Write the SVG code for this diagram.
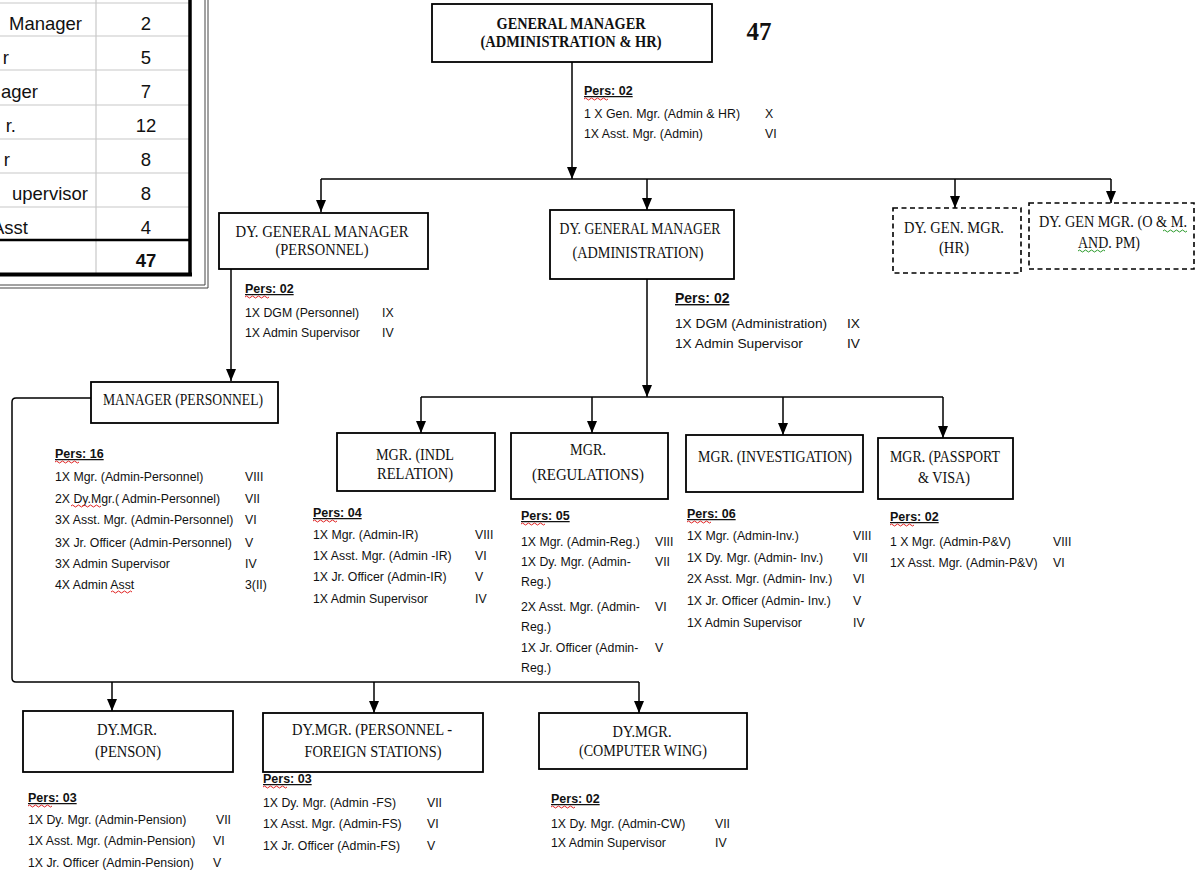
<svg xmlns="http://www.w3.org/2000/svg" xmlns:xlink="http://www.w3.org/1999/xlink" width="1198" height="872" viewBox="0 0 1198 872">
<style>
.box{fill:#fff;stroke:#000;stroke-width:1.8}
.dash{fill:#fff;stroke:#000;stroke-width:1.6;stroke-dasharray:5 3.5}
.t{font-family:"Liberation Serif","Times New Roman",serif;font-size:16.5px;text-anchor:middle;fill:#111}
.tb{font-weight:bold;font-size:16.5px}
.l{font-family:"Liberation Sans",Arial,sans-serif;font-size:12.3px;fill:#111}
.lg{font-size:13.7px}
.p{font-family:"Liberation Sans",Arial,sans-serif;font-size:12.5px;font-weight:bold;fill:#111;text-decoration:underline}
.pg{font-size:14px}
.conn{stroke:#000;stroke-width:1.5;fill:none}
.arr{marker-end:url(#ah)}
.sq{fill:none;stroke:#e02020;stroke-width:1}
.sqg{fill:none;stroke:#2a9a2a;stroke-width:1}
.tbl{font-family:"Liberation Sans",Arial,sans-serif;font-size:18.5px;fill:#111}
.gl{stroke:#c8c8c8;stroke-width:1.2}
</style>
<defs>
<marker id="ah" markerUnits="userSpaceOnUse" markerWidth="12" markerHeight="10" viewBox="0 0 12 10" refX="12" refY="5" orient="auto">
<path d="M0,0 L12,5 L0,10 Z" fill="#000"/>
</marker>
<path id="squig" d="M0,0 q1.5,-2 3,0 t3,0 t3,0 t3,0 t3,0 t3,0 t3,0 t3,0"/>
</defs>
<rect width="1198" height="872" fill="#fff"/>

<!-- staffing table (cropped at left/top) -->
<g id="table">
<line class="gl" x1="0" y1="3" x2="190" y2="3"/>
<line class="gl" x1="0" y1="36" x2="190" y2="36"/>
<line class="gl" x1="0" y1="70" x2="190" y2="70"/>
<line class="gl" x1="0" y1="105" x2="190" y2="105"/>
<line class="gl" x1="0" y1="139" x2="190" y2="139"/>
<line class="gl" x1="0" y1="173" x2="190" y2="173"/>
<line class="gl" x1="0" y1="207" x2="190" y2="207"/>
<line class="gl" x1="96" y1="0" x2="96" y2="274"/>
<line x1="0" y1="240" x2="190" y2="240" stroke="#000" stroke-width="2.5"/>
<line x1="0" y1="274.5" x2="192" y2="274.5" stroke="#000" stroke-width="4"/>
<line x1="190" y1="0" x2="190" y2="276" stroke="#000" stroke-width="3.5"/>
<line x1="205" y1="0" x2="205" y2="285" stroke="#444" stroke-width="1"/>
<line x1="208" y1="0" x2="208" y2="288" stroke="#444" stroke-width="1"/>
<line x1="0" y1="285" x2="205" y2="285" stroke="#444" stroke-width="1"/>
<line x1="0" y1="288" x2="208" y2="288" stroke="#444" stroke-width="1"/>
<text class="tbl" x="82" y="30" text-anchor="end">Manager</text>
<text class="tbl" x="9" y="64" text-anchor="end">r</text>
<text class="tbl" x="38" y="98" text-anchor="end">ager</text>
<text class="tbl" x="16" y="132" text-anchor="end">r.</text>
<text class="tbl" x="10" y="166" text-anchor="end">r</text>
<text class="tbl" x="88" y="200" text-anchor="end">upervisor</text>
<text class="tbl" x="28" y="234" text-anchor="end">Asst</text>
<text class="tbl" x="146" y="30" text-anchor="middle">2</text>
<text class="tbl" x="146" y="64" text-anchor="middle">5</text>
<text class="tbl" x="146" y="98" text-anchor="middle">7</text>
<text class="tbl" x="146" y="132" text-anchor="middle">12</text>
<text class="tbl" x="146" y="166" text-anchor="middle">8</text>
<text class="tbl" x="146" y="200" text-anchor="middle">8</text>
<text class="tbl" x="146" y="234" text-anchor="middle">4</text>
<text class="tbl" x="146" y="267" text-anchor="middle" font-weight="bold">47</text>
</g>

<g id="connectors">
<path class="conn arr" d="M572,62 V179"/>
<path class="conn" d="M321,179 H1111"/>
<path class="conn arr" d="M321,179 V212"/>
<path class="conn arr" d="M647,179 V210"/>
<path class="conn arr" d="M955,179 V208"/>
<path class="conn arr" d="M1111,179 V203"/>
<path class="conn arr" d="M231,269 V381"/>
<path class="conn arr" d="M647,279 V397"/>
<path class="conn" d="M421,397 H943"/>
<path class="conn arr" d="M421,397 V433"/>
<path class="conn arr" d="M592,397 V433"/>
<path class="conn arr" d="M783,397 V435"/>
<path class="conn arr" d="M943,397 V438"/>
<path class="conn" d="M91,398 H16 Q12,398 12,402 V678 Q12,682 16,682 H639"/>
<path class="conn arr" d="M112,682 V711"/>
<path class="conn arr" d="M374,682 V713"/>
<path class="conn arr" d="M639,682 V713"/>
</g>

<g id="gm">
<rect class="box" x="432" y="4" width="280" height="58" stroke-width="2"/>
<text class="t tb" x="571" y="29" textLength="149" lengthAdjust="spacingAndGlyphs">GENERAL MANAGER</text>
<text class="t tb" x="571" y="46.5" textLength="181" lengthAdjust="spacingAndGlyphs">(ADMINISTRATION &amp; HR)</text>
</g>
<text id="total" x="759" y="40" font-family="Liberation Serif, serif" font-weight="bold" font-size="25" text-anchor="middle" fill="#111">47</text>

<g id="gm-pers">
<text class="p" x="584" y="95">Pers: 02</text>
<use href="#squig" class="sq" x="584" y="99"/>
<text class="l" x="584" y="118" textLength="156" lengthAdjust="spacingAndGlyphs">1 X  Gen. Mgr. (Admin &amp; HR)</text>
<text class="l" x="765" y="118">X</text>
<text class="l" x="584" y="138">1X Asst. Mgr. (Admin)</text>
<text class="l" x="765" y="138">VI</text>
</g>

<g id="dgm-personnel">
<rect class="box" x="219" y="213" width="209" height="56"/>
<text class="t" x="322" y="237" textLength="173" lengthAdjust="spacingAndGlyphs">DY. GENERAL MANAGER</text>
<text class="t" x="322" y="255" textLength="93" lengthAdjust="spacingAndGlyphs">(PERSONNEL)</text>
</g>
<g id="dgm-personnel-pers">
<text class="p" x="245" y="293">Pers: 02</text>
<use href="#squig" class="sq" x="245" y="297"/>
<text class="l" x="245" y="317">1X DGM (Personnel)</text>
<text class="l" x="382" y="317">IX</text>
<text class="l" x="245" y="337">1X Admin Supervisor</text>
<text class="l" x="382" y="337">IV</text>
</g>

<g id="dgm-admin">
<rect class="box" x="550" y="210" width="184" height="69"/>
<text class="t" x="640" y="234" textLength="161" lengthAdjust="spacingAndGlyphs">DY. GENERAL MANAGER</text>
<text class="t" x="638" y="258" textLength="131" lengthAdjust="spacingAndGlyphs">(ADMINISTRATION)</text>
</g>
<g id="dgm-admin-pers">
<text class="p pg" x="675" y="303">Pers: 02</text>
<text class="l lg" x="675" y="328">1X DGM (Administration)</text>
<text class="l lg" x="847" y="328">IX</text>
<text class="l lg" x="675" y="348">1X Admin Supervisor</text>
<text class="l lg" x="847" y="348">IV</text>
</g>

<g id="dgm-hr">
<rect class="dash" x="893" y="208" width="128" height="65"/>
<text class="t" x="954" y="233" textLength="100" lengthAdjust="spacingAndGlyphs">DY. GEN. MGR.</text>
<text class="t" x="954" y="253" textLength="30" lengthAdjust="spacingAndGlyphs">(HR)</text>
</g>
<g id="dgm-om">
<rect class="dash" x="1029" y="203" width="165" height="66"/>
<text class="t" x="1113" y="227" textLength="148" lengthAdjust="spacingAndGlyphs">DY. GEN MGR. (O &amp; M.</text>
<text class="t" x="1109" y="248" textLength="62" lengthAdjust="spacingAndGlyphs">AND. PM)</text>
<use href="#squig" class="sqg" x="1163" y="231"/>
<path class="sqg" d="M1078,251 q1.5,-2 3,0 t3,0 t3,0 t3,0 t3,0 t3,0 t3,0 t3,0 t3,0"/>
</g>

<g id="mgr-personnel">
<rect class="box" x="91" y="382" width="187" height="41"/>
<text class="t" x="183" y="405" textLength="160" lengthAdjust="spacingAndGlyphs">MANAGER (PERSONNEL)</text>
</g>
<g id="mgr-personnel-pers">
<text class="p" x="55" y="458">Pers: 16</text>
<use href="#squig" class="sq" x="55" y="462"/>
<text class="l" x="55" y="481">1X Mgr. (Admin-Personnel)</text>
<text class="l" x="245" y="481">VIII</text>
<text class="l" x="55" y="503">2X Dy.Mgr.( Admin-Personnel)</text>
<path class="sq" d="M71,506 q1.5,-2 3,0 t3,0 t3,0 t3,0 t3,0 t3,0 t3,0 t3,0 t3,0 t3,0"/>
<text class="l" x="245" y="503">VII</text>
<text class="l" x="55" y="524">3X Asst. Mgr. (Admin-Personnel)</text>
<text class="l" x="245" y="524">VI</text>
<text class="l" x="55" y="547">3X Jr. Officer (Admin-Personnel)</text>
<text class="l" x="245" y="547">V</text>
<text class="l" x="55" y="568">3X Admin Supervisor</text>
<text class="l" x="245" y="568">IV</text>
<text class="l" x="55" y="589">4X Admin Asst</text>
<path class="sq" d="M111,592 q1.5,-2 3,0 t3,0 t3,0 t3,0 t3,0 t3,0 t3,0"/>
<text class="l" x="245" y="589">3(II)</text>
</g>

<g id="mgr-ir">
<rect class="box" x="337" y="433" width="158" height="58"/>
<text class="t" x="415" y="460" textLength="78" lengthAdjust="spacingAndGlyphs">MGR. (INDL</text>
<text class="t" x="415" y="479" textLength="76" lengthAdjust="spacingAndGlyphs">RELATION)</text>
</g>
<g id="mgr-ir-pers">
<text class="p" x="313" y="517">Pers: 04</text>
<use href="#squig" class="sq" x="313" y="521"/>
<text class="l" x="313" y="539">1X Mgr. (Admin-IR)</text>
<text class="l" x="475" y="539">VIII</text>
<text class="l" x="313" y="560">1X Asst. Mgr. (Admin -IR)</text>
<text class="l" x="475" y="560">VI</text>
<text class="l" x="313" y="581">1X Jr. Officer (Admin-IR)</text>
<text class="l" x="475" y="581">V</text>
<text class="l" x="313" y="603">1X Admin Supervisor</text>
<text class="l" x="475" y="603">IV</text>
</g>

<g id="mgr-reg">
<rect class="box" x="511" y="433" width="157" height="66"/>
<text class="t" x="588" y="455" textLength="36" lengthAdjust="spacingAndGlyphs">MGR.</text>
<text class="t" x="588" y="480" textLength="112" lengthAdjust="spacingAndGlyphs">(REGULATIONS)</text>
</g>
<g id="mgr-reg-pers">
<text class="p" x="521" y="520">Pers: 05</text>
<use href="#squig" class="sq" x="521" y="524"/>
<text class="l" x="521" y="546">1X Mgr. (Admin-Reg.)</text>
<text class="l" x="655" y="546">VIII</text>
<text class="l" x="521" y="566">1X Dy. Mgr. (Admin-</text>
<text class="l" x="655" y="566">VII</text>
<text class="l" x="521" y="586">Reg.)</text>
<text class="l" x="521" y="611">2X Asst. Mgr. (Admin-</text>
<text class="l" x="655" y="611">VI</text>
<text class="l" x="521" y="631">Reg.)</text>
<text class="l" x="521" y="652">1X Jr. Officer (Admin-</text>
<text class="l" x="655" y="652">V</text>
<text class="l" x="521" y="672">Reg.)</text>
</g>

<g id="mgr-inv">
<rect class="box" x="686" y="435" width="177" height="57"/>
<text class="t" x="775" y="462" textLength="154" lengthAdjust="spacingAndGlyphs">MGR. (INVESTIGATION)</text>
</g>
<g id="mgr-inv-pers">
<text class="p" x="687" y="518">Pers: 06</text>
<use href="#squig" class="sq" x="687" y="522"/>
<text class="l" x="687" y="540">1X Mgr. (Admin-Inv.)</text>
<text class="l" x="853" y="540">VIII</text>
<text class="l" x="687" y="562">1X Dy. Mgr. (Admin- Inv.)</text>
<text class="l" x="853" y="562">VII</text>
<text class="l" x="687" y="583">2X Asst. Mgr. (Admin- Inv.)</text>
<text class="l" x="853" y="583">VI</text>
<text class="l" x="687" y="605">1X Jr. Officer (Admin- Inv.)</text>
<text class="l" x="853" y="605">V</text>
<text class="l" x="687" y="627">1X Admin Supervisor</text>
<text class="l" x="853" y="627">IV</text>
</g>

<g id="mgr-pv">
<rect class="box" x="878" y="438" width="135" height="61"/>
<text class="t" x="945" y="462" textLength="110" lengthAdjust="spacingAndGlyphs">MGR. (PASSPORT</text>
<text class="t" x="944" y="483" textLength="52" lengthAdjust="spacingAndGlyphs">&amp; VISA)</text>
</g>
<g id="mgr-pv-pers">
<text class="p" x="890" y="521">Pers: 02</text>
<use href="#squig" class="sq" x="890" y="525"/>
<text class="l" x="890" y="546">1 X Mgr. (Admin-P&amp;V)</text>
<text class="l" x="1053" y="546">VIII</text>
<text class="l" x="890" y="567">1X Asst. Mgr. (Admin-P&amp;V)</text>
<text class="l" x="1053" y="567">VI</text>
</g>

<g id="dymgr-pension">
<rect class="box" x="23" y="711" width="210" height="61"/>
<text class="t" x="127" y="735" textLength="60" lengthAdjust="spacingAndGlyphs">DY.MGR.</text>
<text class="t" x="128" y="757" textLength="66" lengthAdjust="spacingAndGlyphs">(PENSON)</text>
</g>
<g id="dymgr-pension-pers">
<text class="p" x="28" y="802">Pers: 03</text>
<use href="#squig" class="sq" x="28" y="806"/>
<text class="l" x="28" y="824">1X Dy. Mgr. (Admin-Pension)</text>
<text class="l" x="216" y="824">VII</text>
<text class="l" x="28" y="845">1X Asst. Mgr. (Admin-Pension)</text>
<text class="l" x="213" y="845">VI</text>
<text class="l" x="28" y="867">1X Jr. Officer (Admin-Pension)</text>
<text class="l" x="213" y="867">V</text>
</g>

<g id="dymgr-fs">
<rect class="box" x="263" y="713" width="220" height="59"/>
<text class="t" x="372" y="735" textLength="160" lengthAdjust="spacingAndGlyphs">DY.MGR. (PERSONNEL -</text>
<text class="t" x="373" y="757" textLength="137" lengthAdjust="spacingAndGlyphs">FOREIGN STATIONS)</text>
</g>
<g id="dymgr-fs-pers">
<text class="p" x="263" y="783">Pers: 03</text>
<use href="#squig" class="sq" x="263" y="787"/>
<text class="l" x="263" y="807">1X Dy. Mgr. (Admin -FS)</text>
<text class="l" x="427" y="807">VII</text>
<text class="l" x="263" y="828">1X Asst. Mgr. (Admin-FS)</text>
<text class="l" x="427" y="828">VI</text>
<text class="l" x="263" y="850">1X Jr. Officer (Admin-FS)</text>
<text class="l" x="427" y="850">V</text>
</g>

<g id="dymgr-cw">
<rect class="box" x="539" y="713" width="208" height="56"/>
<text class="t" x="642" y="737" textLength="59" lengthAdjust="spacingAndGlyphs">DY.MGR.</text>
<text class="t" x="643" y="756" textLength="128" lengthAdjust="spacingAndGlyphs">(COMPUTER WING)</text>
</g>
<g id="dymgr-cw-pers">
<text class="p" x="551" y="803">Pers: 02</text>
<use href="#squig" class="sq" x="551" y="807"/>
<text class="l" x="551" y="828">1X  Dy. Mgr. (Admin-CW)</text>
<text class="l" x="715" y="828">VII</text>
<text class="l" x="551" y="847">1X Admin Supervisor</text>
<text class="l" x="715" y="847">IV</text>
</g>
</svg>
